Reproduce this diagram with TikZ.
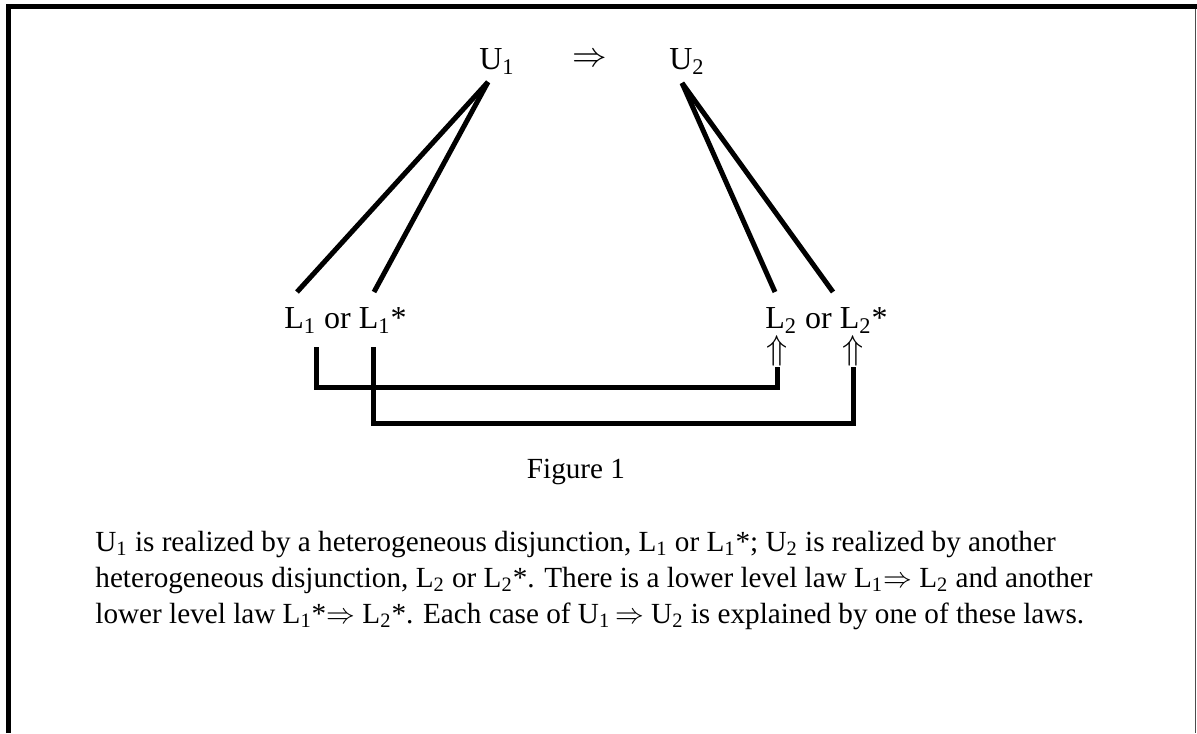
\documentclass[tikz,border=0pt]{standalone}
\usepackage{fontspec}
\setmainfont{Liberation Serif}
\usepackage{tikz}
\usetikzlibrary{positioning, calc}
\newcommand{\lsub}[1]{\textsubscript{#1}}

\begin{document}
\begin{tikzpicture}[x=0.5pt, y=-0.5pt,
    lbl/.style={font=\fontsize{16}{19}\selectfont, inner sep=0pt},
    txt/.style={font=\fontsize{14.6}{18}\selectfont, inner sep=0pt},
    bar/.style={line width=2.5pt}]
    \useasboundingbox (0,0) rectangle (1197,733);

    % Rahmen
    \draw[line width=2.5pt] (8.5,733) -- (8.5,6.5) -- (1197,6.5);
    \draw[black!70, line width=0.7pt] (1195.5,9) -- (1195.5,733);

    % obere Ebene
    \node[lbl, anchor=base] (u1) at (497,69) {U\lsub{1}};
    \node[lbl, anchor=base] (impl) at (590,67) {$\Rightarrow$};
    \node[lbl, anchor=base] (u2) at (687,69) {U\lsub{2}};

    % untere Ebene
    \node[lbl, anchor=base] (l1) at (345.5,328) {L\lsub{1} or L\lsub{1}*};
    \node[lbl, anchor=base] (l2) at (826.5,328) {L\lsub{2} or L\lsub{2}*};

    % Realisierung
    \coordinate (u1foot) at (488,82);
    \coordinate (u2foot) at (682,83);
    \coordinate (l1a) at (297,292);
    \coordinate (l1b) at (374,292);
    \coordinate (l2a) at (775,292);
    \coordinate (l2b) at (833,292);
    \draw[bar] (u1foot) -- (l1a);
    \draw[bar] (u1foot) -- (l1b);
    \draw[bar] (u2foot) -- (l2a);
    \draw[bar] (u2foot) -- (l2b);

    % Gesetze unten
    \node[lbl, anchor=south] (up1) at (777,367) {$\Uparrow$};
    \node[lbl, anchor=south] (up2) at (853,367) {$\Uparrow$};
    \coordinate (b1) at (316,347);
    \coordinate (b2) at (373,347);
    \draw[bar] (b1) -- ++(0,40) -| (up1.south);
    \draw[bar] (b2) -- ++(0,76) -| (up2.south);

    \node[txt, anchor=base] (fig) at (576,478) {Figure 1};

    % Text
    \node[txt, anchor=base west] (par1) at (95,551) {U\lsub{1} is realized by a heterogeneous disjunction, L\lsub{1} or L\lsub{1}*; U\lsub{2} is realized by another};
    \node[txt, anchor=base west] (par2) at (95,587) {heterogeneous disjunction, L\lsub{2} or L\lsub{2}*. There is a lower level law L\lsub{1}$\Rightarrow$ L\lsub{2} and another};
    \node[txt, anchor=base west] (par3) at (95,623) {lower level law L\lsub{1}*$\Rightarrow$ L\lsub{2}*. Each case of U\lsub{1}\,$\Rightarrow$ U\lsub{2} is explained by one of these laws.};
\end{tikzpicture}
\end{document}
